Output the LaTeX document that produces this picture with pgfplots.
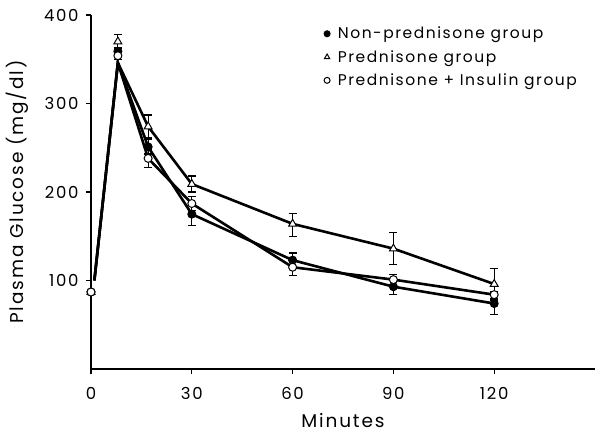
\documentclass[border=0pt]{standalone}
\usepackage{fontspec}
\setmainfont{Poppins}[LetterSpace=10]
\usepackage{pgfplots}
\pgfplotsset{compat=1.18}
\begin{document}
\begin{tikzpicture}
\begin{axis}[
 name=ax,
 scale only axis, width=504pt, height=354pt,
 xmin=0, xmax=150, ymin=0, ymax=400,
 axis x line=bottom, axis y line=left,
 x axis line style={line width=2pt,-},
 y axis line style={line width=1.3pt,-},
 xtick={0,30,60,90,120}, ytick={100,200,300,400},
 tick align=outside, major tick length=5pt,
 tick style={black, line width=1.2pt},
 /pgf/number format/assume math mode=true,
 ticklabel style={font=\fontsize{16.5}{19}\selectfont},
 xticklabel style={yshift=-10pt},
 yticklabel style={xshift=-4pt},
 xlabel={Minutes}, ylabel={Plasma Glucose (mg/dl)},
 label style={font=\fontsize{18.5}{22}\selectfont},
 xlabel style={yshift=-7pt},
 ylabel style={yshift=9pt},
 legend style={draw=none, fill=none, at={(rel axis cs:0.462,0.972)}, anchor=north west,
   font=\fontsize{15.5}{18}\selectfont, row sep=6pt, inner sep=0pt},
 legend cell align=left,
 legend image code/.code={\draw[#1, mark size=3pt] plot coordinates {(0.1cm,0cm)}; \path (0cm,0cm) (0.4cm,0cm);},
 error bars/y dir=both, error bars/y explicit,
 error bars/error mark options={rotate=90, mark size=4pt, line width=1.2pt, black},
 error bars/error bar style={line width=1.2pt, black},
]
% lines
\addplot[black, line width=2.6pt, no markers, forget plot] coordinates {(1,100) (8,346) (17,251) (30,175) (60,123) (90,93) (120,74)};
\addplot[black, line width=2.6pt, no markers, forget plot] coordinates {(1,100) (8,346) (17,274) (30,209) (60,164) (90,136) (120,96)};
\addplot[black, line width=2.6pt, no markers, forget plot] coordinates {(1,100) (8,346) (17,238) (30,187) (60,115) (90,101) (120,84)};
% markers
\addplot[only marks, mark=*, mark size=4pt, black, mark options={line width=1pt}] coordinates {
 (0,87) +- (0,0) (8,359) +- (0,4) (17,251) +- (0,8) (30,175) +- (0,13) (60,123) +- (0,8) (90,93) +- (0,9) (120,74) +- (0,12)};
\addlegendentry{Non-prednisone group}
\addplot[only marks, mark=triangle*, mark size=4.5pt, black, mark options={fill=white, line width=1pt}] coordinates {
 (0,87) +- (0,0) (8,370) +- (0,8) (17,274) +- (0,13) (60,164) += (0,12) -= (0,14) (30,209) +- (0,9) (90,136) +- (0,18) (120,96) +- (0,18)};
\addlegendentry{Prednisone group}
\addplot[only marks, mark=*, mark size=4pt, black, mark options={fill=white, line width=1pt}] coordinates {
 (0,87) +- (0,0) (8,354) +- (0,4) (17,238) +- (0,10) (30,187) +- (0,8) (60,115) +- (0,9) (90,101) +- (0,6) (120,84) +- (0,4)};
\addlegendentry{Prednisone + Insulin group}
\end{axis}
\pgfresetboundingbox
\path[use as bounding box] ([shift={(-91pt,-67pt)}]ax.south west) rectangle ++(601pt,436pt);
\end{tikzpicture}
\end{document}
